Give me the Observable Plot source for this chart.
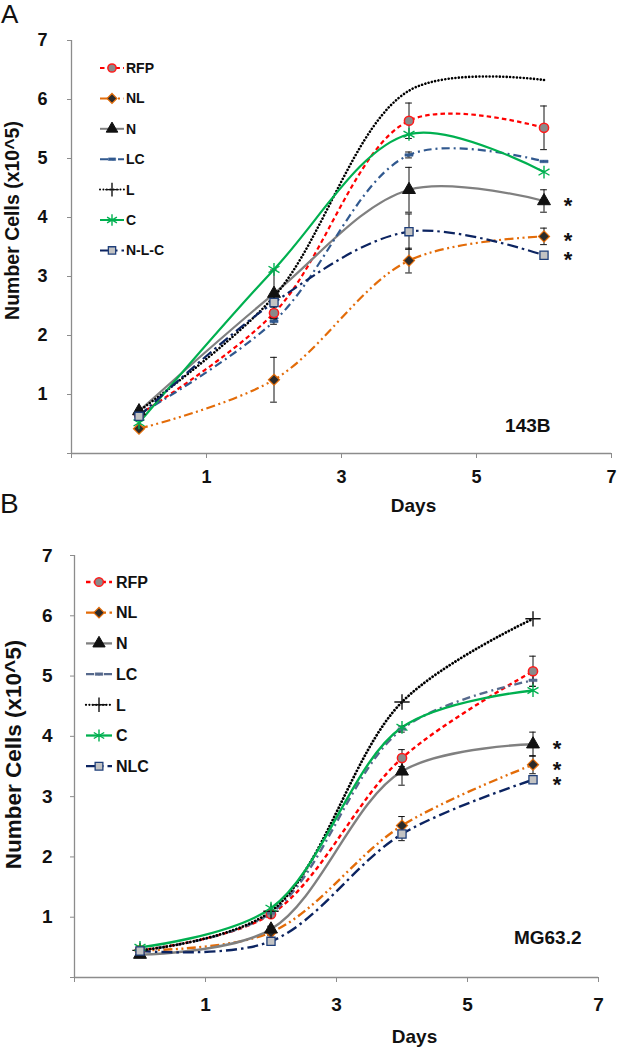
<!DOCTYPE html>
<html>
<head>
<meta charset="utf-8">
<script src="https://cdn.jsdelivr.net/npm/d3@7"></script>
<script src="https://cdn.jsdelivr.net/npm/@observablehq/plot@0.6"></script>
<style>
  html, body { margin: 0; padding: 0; background: #fff; }
  #root { position: relative; width: 618px; height: 1050px; overflow: hidden; font-family: "Liberation Sans", Arial, sans-serif; }
  .panel { position: absolute; left: 0; width: 618px; }
  #overlay { position: absolute; left: 0; top: 0; pointer-events: none; }
</style>
</head>
<body>
<div id="root"></div>
<script>
// ---------------- data ----------------
const days = [0, 2, 4, 6];
const seriesKeys = ["RFP", "NL", "N", "LC", "L", "C", "NLC"];
const legendLabelsA = ["RFP", "NL", "N", "LC", "L", "C", "N-L-C"];
const legendLabelsB = ["RFP", "NL", "N", "LC", "L", "C", "NLC"];
const yTicks = [0, 1, 2, 3, 4, 5, 6, 7];
const xTicks = [-1, 1, 3, 5, 7];
const significant = ["N", "NL", "NLC"];
const panelTags = ["A", "B"];
const cellLines = ["143B", "MG63.2"];
const yTitle = "Number Cells (x10^5)";
const xTitle = "Days";

// Panel A: 143B
const a_RFP = [0.66, 2.38, 5.64, 5.52];
const a_NL  = [0.42, 1.25, 3.27, 3.68];
const a_N   = [0.72, 2.71, 4.47, 4.28];
const a_LC  = [0.66, 2.24, 5.06, 4.95];
const a_L   = [0.72, 2.66, 6.15, 6.33];
const a_C   = [0.52, 3.12, 5.41, 4.77];
const a_NLC = [0.63, 2.56, 3.76, 3.36];
const aErr_RFP = [0.03, 0.10, 0.30, 0.37];
const aErr_NL  = [0.02, 0.38, 0.21, 0.14];
const aErr_N   = [0.03, 0.40, 0.38, 0.19];
const aErr_LC  = [0.02, 0.05, 0.05, 0.03];
const aErr_L   = [0, 0, 0, 0];
const aErr_C   = [0, 0, 0, 0];
const aErr_NLC = [0.03, 0.12, 0.30, 0.05];

// Panel B: MG63.2
const b_RFP = [0.45, 1.05, 3.64, 5.08];
const b_NL  = [0.45, 0.75, 2.52, 3.53];
const b_N   = [0.38, 0.80, 3.42, 3.87];
const b_LC  = [0.45, 1.07, 4.12, 4.93];
const b_L   = [0.45, 1.10, 4.57, 5.95];
const b_C   = [0.50, 1.15, 4.15, 4.76];
const b_NLC = [0.44, 0.60, 2.38, 3.28];
const bErr_RFP = [0.02, 0.05, 0.14, 0.25];
const bErr_NL  = [0.02, 0.05, 0.15, 0.15];
const bErr_N   = [0.02, 0.05, 0.23, 0.20];
const bErr_LC  = [0.02, 0.03, 0.05, 0.10];
const bErr_L   = [0, 0, 0, 0];
const bErr_C   = [0, 0, 0, 0];
const bErr_NLC = [0.02, 0.03, 0.11, 0.03];

// ---------------- styles ----------------
const dashSym = { draw(ctx, size) { const w = Math.sqrt(size) * 1.15; ctx.rect(-w / 2, -1.3, w, 2.6); } };
const diamondSym = { draw(ctx, size) { const a = Math.sqrt(size / 2); ctx.moveTo(0, -a); ctx.lineTo(a, 0); ctx.lineTo(0, a); ctx.lineTo(-a, 0); ctx.closePath(); } };
const styleA = {
  RFP: { color: "#ff0000", dash: "4.5,3.2", cap: "butt", symbol: "circle", fill: "#8a8a8a", mstroke: "#ff1a1a", r: 4.6, msw: 1.5, marker: true },
  NL:  { color: "#e36c09", dash: "9,3.5,2,3.5,2,3.5", cap: "butt", symbol: diamondSym, fill: "#2b2b2b", mstroke: "#e36c09", r: 4.4, msw: 1.2, marker: true },
  N:   { color: "#808080", dash: null, cap: "butt", symbol: "triangle", fill: "#111", mstroke: "#111", r: 4.8, msw: 1, marker: true },
  LC:  { color: "#31598f", dash: "8,4,2,4", cap: "butt", symbol: dashSym, fill: "#31598f", mstroke: "#31598f", r: 4, msw: 0.5, marker: true },
  L:   { color: "#000", dash: "0.01,3.4", cap: "round", symbol: "plus", fill: "none", mstroke: "#111", r: 5, msw: 1.4, marker: false },
  C:   { color: "#00b050", dash: null, cap: "butt", symbol: "asterisk", fill: "none", mstroke: "#00b050", r: 6, msw: 1.4, marker: true },
  NLC: { color: "#0c2461", dash: "11,4,2.5,4", cap: "butt", symbol: "square", fill: "#c3c3c3", mstroke: "#1f3f7a", r: 4.6, msw: 1.3, marker: true }
};
const styleB = Object.assign({}, styleA, {
  LC: { color: "#56698c", dash: "8,4,2,4", cap: "butt", symbol: dashSym, fill: "#56698c", mstroke: "#56698c", r: 4, msw: 0.5, marker: true },
  L:  { color: "#000", dash: "0.01,3.4", cap: "round", symbol: "plus", fill: "none", mstroke: "#111", r: 5, msw: 1.4, marker: true }
});

const FONT = "Liberation Sans, Arial, sans-serif";

function rowsOf(valArrays, errArrays) {
  const rows = [];
  seriesKeys.forEach((k, j) => {
    days.forEach((d, i) => rows.push({ key: k, day: d, v: valArrays[j][i], e: errArrays[j][i] }));
  });
  return rows;
}

function buildPanel(cfg) {
  const rows = rowsOf(cfg.vals, cfg.errs);
  const st = cfg.style;
  const marks = [
    Plot.ruleY([0], { stroke: "#8c8c8c", strokeWidth: 1.3 }),
    Plot.ruleX([-1], { stroke: "#8c8c8c", strokeWidth: 1.3 }),
    Plot.axisY({ ticks: yTicks, tickSize: 4, tickPadding: cfg.yPad, stroke: "#8c8c8c", fill: "#111",
      fontSize: cfg.tickFs, fontWeight: "bold", tickFormat: d => d === 0 ? "" : d, label: null }),
    Plot.axisX({ ticks: xTicks, tickSize: 5, tickPadding: cfg.xPad, stroke: "#8c8c8c", fill: "#111",
      fontSize: cfg.tickFs, fontWeight: "bold", tickFormat: d => d < 0 ? "" : d, label: null })
  ];
  seriesKeys.forEach(k => {
    const s = st[k];
    marks.push(Plot.line(rows.filter(r => r.key === k), {
      x: "day", y: "v", stroke: s.color, strokeWidth: k === "L" ? cfg.lw + 0.4 : cfg.lw,
      strokeDasharray: s.dash || undefined, strokeLinecap: s.cap, curve: "catmull-rom"
    }));
  });
  const errRows = rows.filter(r => r.e > 0.04);
  marks.push(
    Plot.ruleX(errRows, { x: "day", y1: d => d.v - d.e, y2: d => d.v + d.e, stroke: "#111", strokeWidth: 1 }),
    Plot.ruleY(errRows, { y: d => d.v + d.e, x1: d => d.day - 0.05, x2: d => d.day + 0.05, stroke: "#111", strokeWidth: 1 }),
    Plot.ruleY(errRows, { y: d => d.v - d.e, x1: d => d.day - 0.05, x2: d => d.day + 0.05, stroke: "#111", strokeWidth: 1 })
  );
  seriesKeys.forEach(k => {
    const s = st[k];
    if (!s.marker) return;
    marks.push(Plot.dot(rows.filter(r => r.key === k), {
      x: "day", y: "v", symbol: s.symbol, r: s.r, fill: s.fill, stroke: s.mstroke, strokeWidth: s.msw
    }));
  });
  marks.push(
    Plot.text(rows.filter(r => r.day === 6 && significant.includes(r.key)), {
      x: "day", y: "v", text: () => "*", dx: 24, dy: 5, fontSize: 22, fontWeight: "bold", fill: "#111",
      lineAnchor: "middle", textAnchor: "middle"
    }),
    Plot.text([cfg.tag], { frameAnchor: "bottom-right", textAnchor: "end", lineAnchor: "middle", dx: cfg.tagDx, dy: cfg.tagDy,
      fontSize: 19, fontWeight: "bold", fill: "#111" }),
    Plot.text([xTitle], { frameAnchor: "bottom", textAnchor: "middle", lineAnchor: "middle", dx: cfg.daysDx, dy: cfg.daysDy,
      fontSize: 19, fontWeight: "bold", fill: "#111" }),
    Plot.text([yTitle], { frameAnchor: "left", rotate: -90, textAnchor: "middle", lineAnchor: "middle", dx: cfg.titleDx, dy: cfg.titleDy,
      fontSize: cfg.titleFs, fontWeight: "bold", fill: "#111" })
  );
  return Plot.plot({
    width: 618, height: cfg.height,
    marginTop: cfg.mt, marginBottom: cfg.mb, marginLeft: cfg.ml, marginRight: cfg.mr,
    x: { domain: [-1, 7] }, y: { domain: [0, 7] },
    style: { fontFamily: FONT, background: "transparent", overflow: "visible" },
    marks
  });
}

const root = document.getElementById("root");

const panelA = buildPanel({
  vals: [a_RFP, a_NL, a_N, a_LC, a_L, a_C, a_NLC],
  errs: [aErr_RFP, aErr_NL, aErr_N, aErr_LC, aErr_L, aErr_C, aErr_NLC],
  style: styleA, height: 520, mt: 40, mb: 67, ml: 71, mr: 7,
  tickFs: 18, yPad: 20, xPad: 12, lw: 2.2, tag: cellLines[0], tagDx: -61, tagDy: -28,
  daysDx: 72, daysDy: 52.5, titleFs: 19.5, titleDx: -59, titleDy: -26.5
});
const panelB = buildPanel({
  vals: [b_RFP, b_NL, b_N, b_LC, b_L, b_C, b_NLC],
  errs: [bErr_RFP, bErr_NL, bErr_N, bErr_LC, bErr_L, bErr_C, bErr_NLC],
  style: styleB, height: 530, mt: 35, mb: 73, ml: 74, mr: 20,
  tickFs: 19, yPad: 18, xPad: 15, lw: 2.4, tag: cellLines[1], tagDx: -17, tagDy: -40,
  daysDx: 78, daysDy: 59, titleFs: 22.5, titleDx: -61, titleDy: -12
});

const divA = document.createElement("div"); divA.className = "panel"; divA.style.top = "0px"; divA.appendChild(panelA);
const divB = document.createElement("div"); divB.className = "panel"; divB.style.top = "520px"; divB.appendChild(panelB);
root.appendChild(divA); root.appendChild(divB);

// ---------------- overlay: panel letters and legends ----------------
const ov = d3.select(root).append("svg").attr("id", "overlay").attr("width", 618).attr("height", 1050)
  .style("font-family", FONT);

ov.append("text").attr("x", 1).attr("y", 23).attr("font-size", 26).attr("fill", "#111").text(panelTags[0]);
ov.append("text").attr("x", 0).attr("y", 513).attr("font-size", 28).attr("fill", "#111").text(panelTags[1]);

function drawLegend(labels, st, o) {
  const g = ov.append("g").attr("transform", `translate(${o.left},${o.top})`);
  seriesKeys.forEach((k, i) => {
    const s = st[k];
    const row = g.append("g").attr("transform", `translate(0,${i * o.step})`);
    row.append("line").attr("x1", 0).attr("x2", o.sw).attr("y1", 0).attr("y2", 0)
      .attr("stroke", s.color).attr("stroke-width", o.lw)
      .attr("stroke-dasharray", s.dash || null).attr("stroke-linecap", s.cap);
    const symType = typeof s.symbol === "string"
      ? { circle: d3.symbolCircle, triangle: d3.symbolTriangle, plus: d3.symbolPlus, asterisk: d3.symbolAsterisk, square: d3.symbolSquare }[s.symbol]
      : s.symbol;
    row.append("path").attr("transform", `translate(${o.sw / 2},0)`)
      .attr("d", d3.symbol(symType, Math.PI * s.r * s.r * o.ms)())
      .attr("fill", s.fill).attr("stroke", s.mstroke).attr("stroke-width", s.msw);
    row.append("text").attr("x", o.sw + o.gap).attr("y", 0).attr("dy", "0.36em")
      .attr("font-size", o.fs).attr("font-weight", "bold").attr("fill", "#111").text(labels[i]);
  });
}
drawLegend(legendLabelsA, styleA, { left: 100, top: 68, step: 30.4, sw: 24, gap: 2, lw: 2, fs: 14, ms: 0.8 });
drawLegend(legendLabelsB, styleB, { left: 86, top: 582, step: 30.7, sw: 26, gap: 4, lw: 2.3, fs: 16, ms: 0.9 });
</script>
</body>
</html>
